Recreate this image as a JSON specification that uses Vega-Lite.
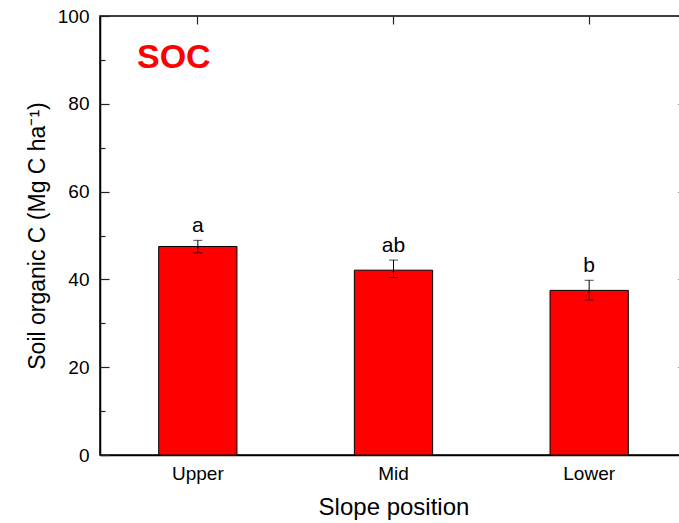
{
  "$schema": "https://vega.github.io/schema/vega-lite/v6.json",
  "width": 587,
  "height": 439,
  "autosize": {"type": "none"},
  "padding": {"left": 100, "top": 16, "right": 0, "bottom": 68},
  "background": "white",
  "config": {
    "view": {"stroke": "black", "strokeWidth": 1.5},
    "font": "Liberation Sans",
    "axis": {
      "grid": false,
      "domainColor": "black",
      "domainWidth": 1.5,
      "tickColor": "#222222",
      "tickWidth": 1.2,
      "labelColor": "black",
      "titleColor": "black",
      "labelFont": "Liberation Sans",
      "titleFont": "Liberation Sans",
      "labelFontSize": 19,
      "titleFontSize": 24,
      "titleFontWeight": "normal"
    }
  },
  "datasets": {
    "soc": [
      {"Slope": "Upper", "SOC": 47.5, "lower": 46.05, "upper": 48.9, "letter": "a"},
      {"Slope": "Mid", "SOC": 42.1, "lower": 40.4, "upper": 44.4, "letter": "ab"},
      {"Slope": "Lower", "SOC": 37.5, "lower": 35.3, "upper": 39.8, "letter": "b"}
    ],
    "panel": [{"Slope": "Upper", "y": 88.2, "label": "SOC"}]
  },
  "data": {"name": "soc"},
  "layer": [
    {
      "mark": {"type": "bar", "fill": "#ff0000", "stroke": "black", "strokeWidth": 1},
      "encoding": {
        "x": {
          "field": "Slope",
          "type": "nominal",
          "sort": ["Upper", "Mid", "Lower"],
          "scale": {"paddingInner": 0.6, "paddingOuter": 0.3},
          "axis": {
            "orient": "bottom",
            "title": "Slope position",
            "labelAngle": 0,
            "tickSize": -8,
            "labelPadding": 17,
            "titlePadding": 12
          }
        },
        "y": {
          "field": "SOC",
          "type": "quantitative",
          "scale": {"domain": [0, 100], "nice": false},
          "axis": {
            "orient": "left",
            "title": "Soil organic C (Mg C ha⁻¹)",
            "titleFontSize": 23,
            "values": [0, 10, 20, 30, 40, 50, 60, 70, 80, 90, 100],
            "labelExpr": "datum.value % 20 === 0 ? datum.label : ''",
            "tickSize": {"condition": {"test": "datum.value % 20 === 0", "value": -9}, "value": -5},
            "labelPadding": 20,
            "titlePadding": 8
          }
        }
      }
    },
    {
      "mark": {"type": "rule", "color": "black", "strokeWidth": 1},
      "encoding": {
        "x": {"field": "Slope", "type": "nominal", "sort": ["Upper", "Mid", "Lower"], "axis": null},
        "y": {"field": "lower", "type": "quantitative", "axis": null},
        "y2": {"field": "upper"}
      }
    },
    {
      "mark": {"type": "tick", "color": "black", "size": 9, "thickness": 1},
      "encoding": {
        "x": {"field": "Slope", "type": "nominal", "sort": ["Upper", "Mid", "Lower"], "axis": null},
        "y": {"field": "lower", "type": "quantitative", "axis": null}
      }
    },
    {
      "mark": {"type": "tick", "color": "black", "size": 9, "thickness": 1},
      "encoding": {
        "x": {"field": "Slope", "type": "nominal", "sort": ["Upper", "Mid", "Lower"], "axis": null},
        "y": {"field": "upper", "type": "quantitative", "axis": null}
      }
    },
    {
      "mark": {"type": "text", "fontSize": 21, "baseline": "alphabetic", "dy": -8, "color": "black"},
      "encoding": {
        "x": {"field": "Slope", "type": "nominal", "sort": ["Upper", "Mid", "Lower"], "axis": null},
        "y": {"field": "upper", "type": "quantitative", "axis": null},
        "text": {"field": "letter"}
      }
    },
    {
      "data": {"name": "panel"},
      "mark": {"type": "text", "fontSize": 34, "fontWeight": "bold", "color": "#ff0000", "baseline": "alphabetic", "dx": -24},
      "encoding": {
        "x": {"field": "Slope", "type": "nominal", "sort": ["Upper", "Mid", "Lower"], "axis": null},
        "y": {"field": "y", "type": "quantitative", "axis": null},
        "text": {"field": "label"}
      }
    },
    {
      "mark": {"type": "bar", "opacity": 0},
      "encoding": {
        "x": {
          "field": "Slope",
          "type": "nominal",
          "sort": ["Upper", "Mid", "Lower"],
          "axis": {"orient": "top", "title": null, "labels": false, "tickSize": -8, "domain": false}
        },
        "y": {
          "field": "SOC",
          "type": "quantitative",
          "axis": {
            "orient": "right",
            "title": null,
            "labels": false,
            "domain": false,
            "values": [0, 10, 20, 30, 40, 50, 60, 70, 80, 90, 100],
            "tickSize": {"condition": {"test": "datum.value % 20 === 0", "value": -9}, "value": -5}
          }
        }
      }
    }
  ],
  "resolve": {"axis": {"x": "independent", "y": "independent"}}
}
